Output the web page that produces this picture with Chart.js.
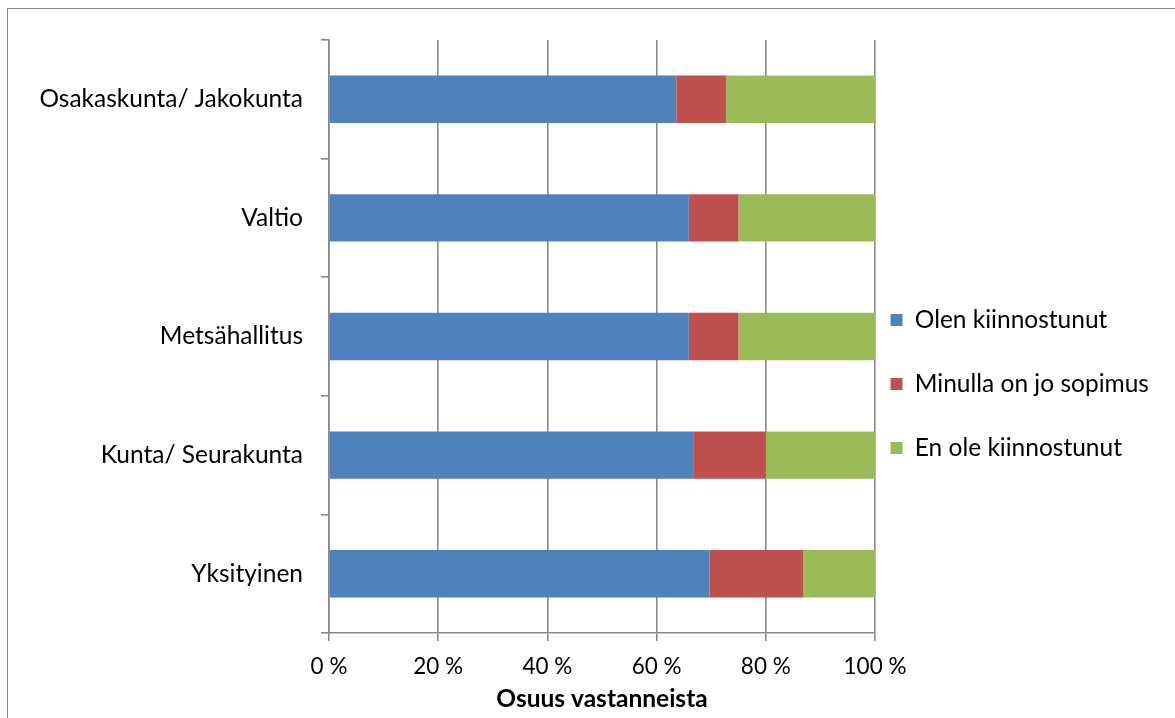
<!DOCTYPE html>
<html>
<head>
<meta charset="utf-8">
<script src="https://cdn.jsdelivr.net/npm/chart.js@4.4.1/dist/chart.umd.min.js"></script>
<style>
  html, body { margin: 0; padding: 0; background: #fff; overflow: hidden; }
  #wrap { position: relative; width: 1175px; height: 718px; }
  #frame { position: absolute; left: 7px; top: 8px; width: 1300px; height: 900px;
           border-left: 1.5px solid #8a8a8a; border-top: 1.5px solid #8a8a8a; pointer-events: none; }
  canvas { position: absolute; left: 0; top: 0; }
</style>
</head>
<body>
<div id="wrap">
  <canvas id="chart" width="1175" height="718"></canvas>
  <div id="frame"></div>
</div>
<script>
// data (percent of respondents)
const categories = ['Osakaskunta/ Jakokunta', 'Valtio', 'Metsähallitus', 'Kunta/ Seurakunta', 'Yksityinen'];
const seriesNames = ['Olen kiinnostunut', 'Minulla on jo sopimus', 'En ole kiinnostunut'];
const olenKiinnostunut = [63.6, 65.9, 65.9, 66.7, 69.7];
const onJoSopimus = [9.1, 9.1, 9.1, 13.3, 17.2];
const enOleKiinnostunut = [27.3, 25.0, 25.0, 20.0, 13.1];
const xTickLabels = ['0 %', '20 %', '40 %', '60 %', '80 %', '100 %'];
const xTitle = 'Osuus vastanneista';

const FONT = 'Lato, "Open Sans", sans-serif';
const gridGray = '#898989';

// move the legend closer to the plot, like the original
const legendNudge = {
  id: 'legendNudge',
  afterLayout(chart) {
    const lg = chart.legend;
    lg.left -= 24; lg.right -= 24;
    lg.top += 5; lg.bottom += 5;
  }
};

new Chart(document.getElementById('chart'), {
  type: 'bar',
  data: {
    labels: categories,
    datasets: [
      { label: seriesNames[0], data: olenKiinnostunut, backgroundColor: '#4f81bd' },
      { label: seriesNames[1], data: onJoSopimus, backgroundColor: '#c0504d' },
      { label: seriesNames[2], data: enOleKiinnostunut, backgroundColor: '#9bbb59' }
    ]
  },
  options: {
    indexAxis: 'y',
    responsive: false,
    animation: false,
    devicePixelRatio: 1,
    barPercentage: 0.4,
    categoryPercentage: 1.0,
    layout: { padding: { top: 40, right: 0, bottom: 0, left: 0 } },
    plugins: {
      tooltip: { enabled: false },
      legend: {
        position: 'right',
        maxWidth: 300,
        labels: {
          color: '#000',
          font: { family: FONT, size: 24.5 },
          boxWidth: 12,
          boxHeight: 12,
          padding: 39.5
        }
      }
    },
    scales: {
      x: {
        stacked: true,
        min: 0,
        max: 100,
        afterFit(scale) { scale.height = 85; },
        ticks: {
          stepSize: 20,
          color: '#000',
          padding: 12,
          maxRotation: 0,
          font: { family: FONT, size: 22.5 },
          callback: (v, i) => xTickLabels[i]
        },
        grid: { color: gridGray, lineWidth: 1.6, tickLength: 8 },
        border: { color: gridGray, width: 1.6 },
        title: {
          display: true,
          text: xTitle,
          color: '#000',
          font: { family: FONT, size: 24.5, weight: 'bold' },
          padding: { top: 0, bottom: 4 }
        }
      },
      y: {
        stacked: true,
        afterFit(scale) { scale.width = 329; },
        ticks: {
          color: '#000',
          padding: 18,
          font: { family: FONT, size: 24.5 }
        },
        grid: { drawOnChartArea: false, color: gridGray, lineWidth: 1.6, tickLength: 8, offset: true },
        border: { color: gridGray, width: 1.6 }
      }
    }
  },
  plugins: [legendNudge]
});
</script>
</body>
</html>
